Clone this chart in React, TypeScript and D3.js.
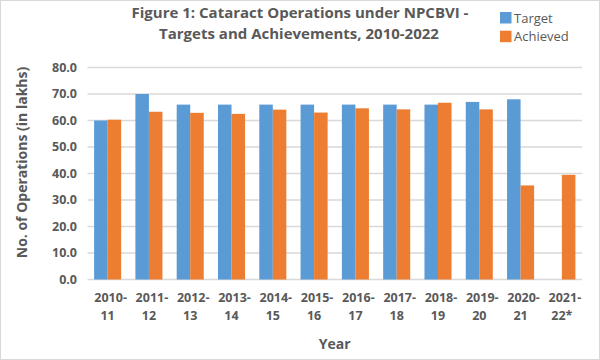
import React from "react";
import * as d3 from "d3";

const categories = ["2010-11","2011-12","2012-13","2013-14","2014-15","2015-16","2016-17","2017-18","2018-19","2019-20","2020-21","2021-22*"];
const targetValues: (number | null)[] = [60.0, 70.0, 66.0, 66.0, 66.0, 66.0, 66.0, 66.0, 66.0, 67.0, 68.0, null];
const achievedValues: (number | null)[] = [60.3, 63.3, 62.9, 62.5, 64.1, 63.0, 64.6, 64.2, 66.7, 64.2, 35.5, 39.5];
const yTicks = [0, 10, 20, 30, 40, 50, 60, 70, 80];
const seriesNames = ["Target", "Achieved"];
const colors = ["#5B9BD5", "#ED7D31"];

export default function App() {
  const W = 600, H = 360;
  const left = 87.5, right = 582, top = 67.5, bottom = 279.5;
  const font = "'Open Sans', 'Noto Sans', sans-serif";
  const textColor = "#595959";

  const x0 = d3.scaleBand<string>().domain(categories).range([left, right]).paddingInner(0.345).paddingOuter(0.16);
  const x1 = d3.scaleBand<string>().domain(seriesNames).range([0, x0.bandwidth()]);
  const y = d3.scaleLinear().domain([0, 80]).range([bottom, top]);

  const series = [targetValues, achievedValues];

  return (
    <div style={{ position: "absolute", left: 0, top: 0 }}>
      <svg width={W} height={H} style={{ display: "block" }}>
        <rect x={0.5} y={0.5} width={W - 1} height={H - 1} fill="#fff" stroke="#d9d9d9" />
        {yTicks.map((t) => (
          <g key={t}>
            <line x1={left} x2={right} y1={y(t)} y2={y(t)} stroke="#d9d9d9" strokeWidth={1.3} />
            <text x={77} y={y(t)} dy="0.35em" textAnchor="end" fontFamily={font} fontWeight="bold" fontSize={12.5} fill={textColor}>
              {t.toFixed(1)}
            </text>
          </g>
        ))}
        {series.map((vals, si) =>
          vals.map((v, i) =>
            v == null ? null : (
              <rect
                key={`${si}-${i}`}
                x={(x0(categories[i]) as number) + (x1(seriesNames[si]) as number)}
                y={y(v)}
                width={x1.bandwidth()}
                height={y(0) - y(v)}
                fill={colors[si]}
              />
            )
          )
        )}
        {categories.map((c) => {
          const cx = (x0(c) as number) + x0.bandwidth() / 2;
          const parts = c.split("-");
          return (
            <text key={c} x={cx} y={302} textAnchor="middle" fontFamily={font} fontWeight="bold" fontSize={12.5} fill={textColor}>
              <tspan x={cx + 3}>{parts[0] + "-"}</tspan>
              <tspan x={cx} dy={18}>{parts[1]}</tspan>
            </text>
          );
        })}
        <text x={(left + right) / 2} y={349} textAnchor="middle" fontFamily={font} fontWeight="bold" fontSize={14} fill={textColor}>Year</text>
        <text transform={`translate(27,162.5) rotate(-90)`} textAnchor="middle" fontFamily={font} fontWeight="bold" fontSize={14} fill={textColor}>
          No. of Operations (in lakhs)
        </text>
        <text x={300} y={18.3} textAnchor="middle" fontFamily={font} fontWeight="bold" fontSize={15} fill={textColor}>Figure 1: Cataract Operations under NPCBVI -</text>
        <text x={299} y={39.3} textAnchor="middle" fontFamily={font} fontWeight="bold" fontSize={15} fill={textColor}>Targets and Achievements, 2010-2022</text>
        {seriesNames.map((s, i) => (
          <g key={s}>
            <rect x={500} y={12 + i * 18.7} width={11.5} height={11.5} fill={colors[i]} />
            <text x={514} y={22.7 + i * 18.6} fontFamily={font} fontSize={13} fill={textColor}>{s}</text>
          </g>
        ))}
      </svg>
    </div>
  );
}
